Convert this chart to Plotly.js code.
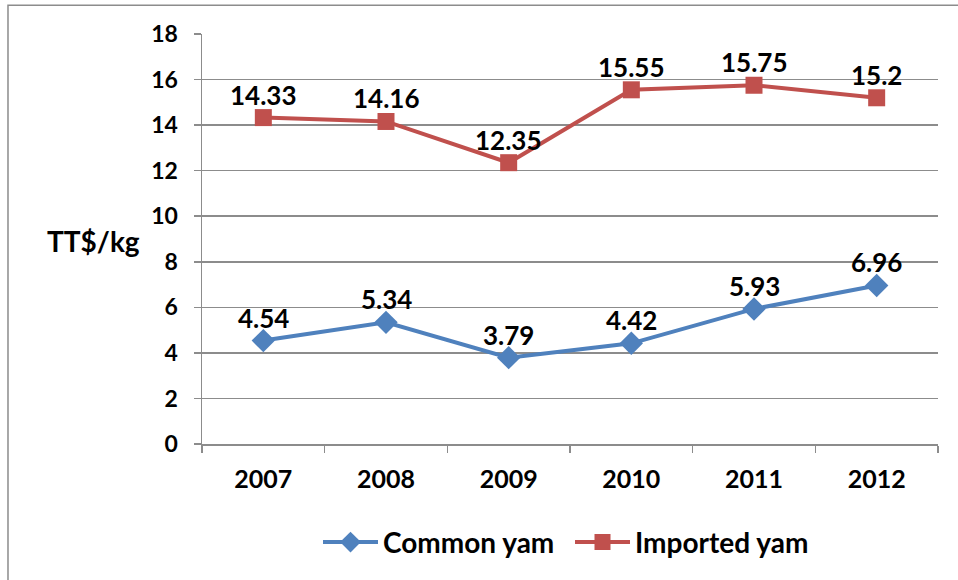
<!DOCTYPE html>
<html>
<head>
<meta charset="utf-8">
<script src="https://cdn.plot.ly/plotly-3.0.1.min.js"></script>
<style>
  html, body { margin: 0; padding: 0; background: #fff; }
  #chart { width: 958px; height: 580px; }
</style>
</head>
<body>
<div id="chart"></div>
<script>
// Yam prices, TT$ per kg
const years = ['2007', '2008', '2009', '2010', '2011', '2012'];
const commonYam = [4.54, 5.34, 3.79, 4.42, 5.93, 6.96];
const importedYam = [14.33, 14.16, 12.35, 15.55, 15.75, 15.2];
const yTicks = [0, 2, 4, 6, 8, 10, 12, 14, 16, 18];

const FONT = 'Lato, "Open Sans", "DejaVu Sans", sans-serif';
const BLUE = '#4F81BD';
const RED = '#C0504D';
const GRID = '#8C8C8C';

function series(name, values, color, symbol, size) {
  return {
    type: 'scatter',
    mode: 'lines+markers',
    name: name,
    x: years,
    y: values,
    line: { color: color, width: 4 },
    marker: { color: color, symbol: symbol, size: size },
    cliponaxis: false
  };
}

// value labels sitting just above each point (x given as category index)
function labels(values) {
  return values.map((v, i) => ({
    x: i, y: v,
    xref: 'x', yref: 'y',
    text: String(v),
    showarrow: false,
    xanchor: 'center', yanchor: 'bottom',
    yshift: 5,
    font: { family: FONT, size: 26, color: '#000', weight: 700 }
  }));
}

const data = [
  series('Common yam', commonYam, BLUE, 'diamond', 18),
  series('Imported yam', importedYam, RED, 'square', 17)
];

const layout = {
  width: 958,
  height: 580,
  margin: { l: 202, r: 20, t: 34, b: 134 },
  paper_bgcolor: '#fff',
  plot_bgcolor: '#fff',
  font: { family: FONT, size: 20, color: '#000', weight: 700 },
  showlegend: true,
  legend: {
    orientation: 'h',
    x: 0.5, xanchor: 'center',
    y: -0.24, yanchor: 'middle',
    font: { family: FONT, size: 28, color: '#000', weight: 700 },
    itemwidth: 55,
    entrywidth: 182,
    traceorder: 'normal'
  },
  xaxis: {
    type: 'category',
    range: [-0.5, 5.5],
    showgrid: false,
    showline: true,
    linecolor: GRID,
    linewidth: 1.5,
    ticks: 'outside',
    tickson: 'boundaries',
    ticklen: 7,
    tickcolor: GRID,
    tickwidth: 1.5,
    ticklabelstandoff: 12,
    tickfont: { family: FONT, size: 25, color: '#000', weight: 700 },
    fixedrange: true
  },
  yaxis: {
    range: [0, 18],
    tickvals: yTicks,
    ticktext: yTicks.map(String),
    showgrid: true,
    gridcolor: GRID,
    gridwidth: 1.5,
    zeroline: false,
    showline: true,
    linecolor: GRID,
    linewidth: 1.5,
    ticks: 'outside',
    ticklen: 7,
    tickcolor: GRID,
    tickwidth: 1.5,
    ticklabelstandoff: 11,
    tickfont: { family: FONT, size: 23, color: '#000', weight: 700 },
    fixedrange: true
  },
  annotations: [
    {
      text: 'TT$/kg',
      xref: 'paper', yref: 'paper',
      x: -0.148, y: 0.495,
      xanchor: 'center', yanchor: 'middle',
      showarrow: false,
      font: { family: FONT, size: 28, color: '#000', weight: 700 }
    },
    ...labels(commonYam),
    ...labels(importedYam)
  ],
  shapes: [{
    // outer chart frame
    type: 'rect', xref: 'paper', yref: 'paper',
    x0: -0.2636, x1: 1.2, y0: -1, y1: 1.0704,
    line: { color: '#8C8C8C', width: 1.5 },
    fillcolor: 'rgba(0,0,0,0)',
    layer: 'below'
  }]
};

Plotly.newPlot('chart', data, layout, { displayModeBar: false, staticPlot: true });
</script>
</body>
</html>
